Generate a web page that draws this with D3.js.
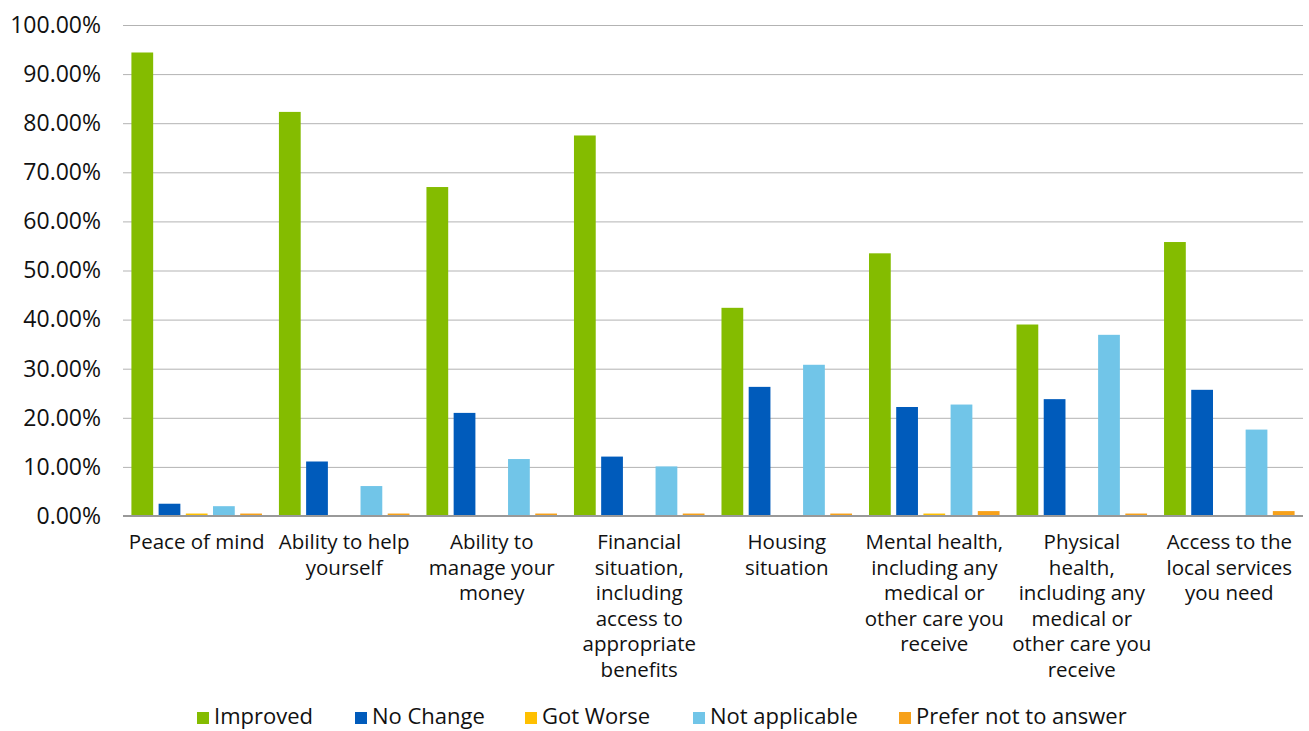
<!DOCTYPE html>
<html>
<head>
<meta charset="utf-8">
<script src="https://cdn.jsdelivr.net/npm/d3@7"></script>
<style>
  html, body { margin: 0; padding: 0; background: #fff; }
  svg text { font-family: "Open Sans", "Noto Sans", sans-serif; fill: #111; }
</style>
</head>
<body>
<svg id="chart" width="1309" height="731"></svg>
<script>
// Outcome categories (each label broken into display lines)
const categories = [
  ["Peace of mind"],
  ["Ability to help", "yourself"],
  ["Ability to", "manage your", "money"],
  ["Financial", "situation,", "including", "access to", "appropriate", "benefits"],
  ["Housing", "situation"],
  ["Mental health,", "including any", "medical or", "other care you", "receive"],
  ["Physical", "health,", "including any", "medical or", "other care you", "receive"],
  ["Access to the", "local services", "you need"]
];

const seriesNames = ["Improved", "No Change", "Got Worse", "Not applicable", "Prefer not to answer"];
const seriesColors = ["#84BC00", "#005BBB", "#FFC000", "#71C5E8", "#F7A11A"];

// Percentages per series, one value per category
const improved      = [94.4, 82.3, 67.0, 77.5, 42.4, 53.5, 39.0, 55.8];
const noChange      = [2.5, 11.1, 21.0, 12.1, 26.3, 22.2, 23.8, 25.7];
const gotWorse      = [0.5, 0, 0, 0, 0, 0.5, 0, 0];
const notApplicable = [2.0, 6.1, 11.6, 10.1, 30.8, 22.7, 36.9, 17.6];
const preferNot     = [0.5, 0.5, 0.5, 0.5, 0.5, 1.0, 0.5, 1.0];

const seriesValues = [improved, noChange, gotWorse, notApplicable, preferNot];
const yTicks = [0, 10, 20, 30, 40, 50, 60, 70, 80, 90, 100];

const svg = d3.select("#chart");
const margin = { left: 123, right: 6, top: 25, bottom: 215 };
const W = 1309, H = 731;
const plotW = W - margin.left - margin.right;
const plotH = H - margin.top - margin.bottom;

const g = svg.append("g").attr("transform", `translate(${margin.left},${margin.top})`);

const x0 = d3.scaleBand().domain(d3.range(categories.length)).range([0, plotW]).paddingInner(0.115).paddingOuter(0.057);
const x1 = d3.scaleBand().domain(d3.range(seriesNames.length)).range([0, x0.bandwidth()]).paddingInner(0.2);
const y = d3.scaleLinear().domain([0, 100]).range([plotH, 0]);

// Horizontal gridlines and y tick labels
const yAxis = d3.axisLeft(y).tickValues(yTicks).tickSize(-plotW).tickFormat(d => d.toFixed(2) + "%");
const ya = g.append("g").call(yAxis);
ya.select(".domain").remove();
ya.selectAll(".tick line").attr("stroke", "#b3b3b3").attr("stroke-width", 1);
ya.selectAll(".tick text")
  .attr("x", -22)
  .style("font-size", "23px")
  .style("font-family", "'Open Sans', 'Noto Sans', sans-serif")
  .attr("fill", "#111");

// Bars
const groups = g.selectAll(".cat").data(categories).join("g")
  .attr("class", "cat")
  .attr("transform", (d, i) => `translate(${x0(i)},0)`);

groups.each(function(_, ci) {
  d3.select(this).selectAll("rect")
    .data(seriesValues.map((vals, si) => ({ si, v: vals[ci] })))
    .join("rect")
    .attr("x", d => x1(d.si))
    .attr("width", x1.bandwidth())
    .attr("y", d => y(d.v))
    .attr("height", d => plotH - y(d.v))
    .attr("fill", d => seriesColors[d.si]);
});

// Baseline
g.append("line")
  .attr("x1", 0).attr("x2", plotW)
  .attr("y1", plotH).attr("y2", plotH)
  .attr("stroke", "#999").attr("stroke-width", 2);

// Category labels
const xa = d3.axisBottom(x0).tickSize(0).tickFormat(() => "");
const xg = g.append("g").attr("transform", `translate(0,${plotH})`).call(xa);
xg.select(".domain").remove();
xg.selectAll(".tick").each(function(i) {
  const t = d3.select(this).append("text")
    .attr("text-anchor", "middle")
    .attr("y", 33)
    .style("font-size", "20.5px")
    .attr("fill", "#111");
  categories[i].forEach((line, k) => {
    t.append("tspan").attr("x", 0).attr("dy", k === 0 ? 0 : 25.6).text(line);
  });
});

// Legend
const legend = svg.append("g").attr("transform", "translate(197,716)");
const legendX = [0, 158, 328, 496, 702];
seriesNames.forEach((name, i) => {
  const lg = legend.append("g").attr("transform", `translate(${legendX[i]},0)`);
  lg.append("rect").attr("x", 0).attr("y", -4).attr("width", 12).attr("height", 12).attr("fill", seriesColors[i]);
  lg.append("text").attr("x", 17).attr("y", 0).attr("dy", "0.35em")
    .style("font-size", "22px").text(name);
});
</script>
</body>
</html>
